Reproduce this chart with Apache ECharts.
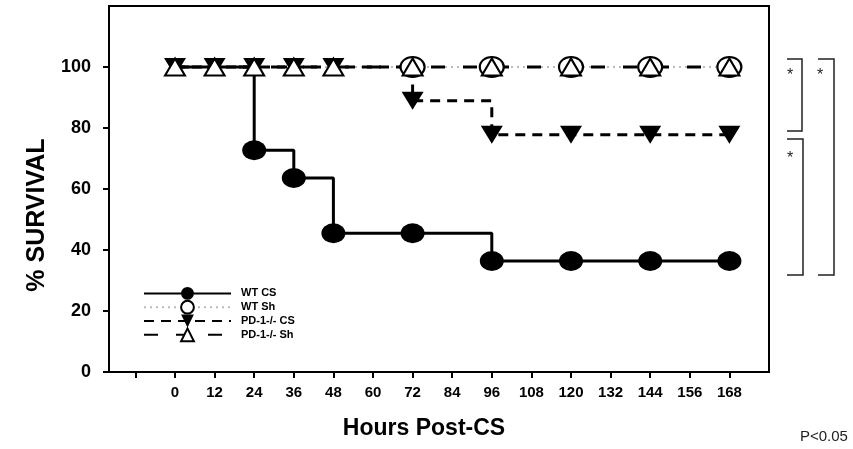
<!DOCTYPE html>
<html>
<head>
<meta charset="utf-8">
<title>Survival</title>
<script src="https://cdn.jsdelivr.net/npm/echarts@6/dist/echarts.min.js"></script>
<style>
  html, body { margin: 0; padding: 0; background: #fff; }
  #chart { width: 853px; height: 449px; }
</style>
</head>
<body>
<div id="chart"></div>
<script>
  // hours after CS
  const hours = [0, 12, 24, 36, 48, 72, 96, 120, 144, 168];
  // % survival per group
  const wtCS   = [100, 100, 72.7, 63.6, 45.5, 45.5, 36.4, 36.4, 36.4, 36.4];
  const wtSh   = [100, 100, 100, 100, 100, 100, 100, 100, 100, 100];
  const pd1CS  = [100, 100, 100, 100, 100, 88.9, 77.8, 77.8, 77.8, 77.8];
  const pd1Sh  = [100, 100, 100, 100, 100, 100, 100, 100, 100, 100];

  const xTicks  = [-12, 0, 12, 24, 36, 48, 60, 72, 84, 96, 108, 120, 132, 144, 156, 168];
  const xLabels = [0, 12, 24, 36, 48, 60, 72, 84, 96, 108, 120, 132, 144, 156, 168];
  const yTicks  = [0, 20, 40, 60, 80, 100];

  const FONT = 'Liberation Sans, Arial, sans-serif';

  // WT markers are hidden where the PD-1-/- CS triangle sits on top of them
  function points(vals, hideUnderPd1) {
    return hours.map((h, i) => {
      const item = { value: [h, vals[i]] };
      if (hideUnderPd1 && vals[i] === pd1CS[i]) item.symbol = 'none';
      return item;
    });
  }

  const myChart = echarts.init(document.getElementById('chart'));

  const option = {
    animation: false,
    grid: {
      left: 109, right: 84, top: 6, bottom: 77,
      show: true, borderColor: '#000', borderWidth: 2,
      outerBoundsMode: 'none'
    },
    legend: {
      orient: 'vertical',
      left: 143, top: 287,
      itemWidth: 87, itemHeight: 16, itemGap: 0,
      padding: 0,
      data: ['WT CS', 'WT Sh', 'PD-1-/- CS', 'PD-1-/- Sh'],
      textStyle: { fontFamily: FONT, fontWeight: 'bold', fontSize: 11, color: '#000', padding: [0, 0, 0, 5] }
    },
    xAxis: {
      type: 'value', min: -20, max: 180,
      name: 'Hours Post-CS', nameLocation: 'middle', nameGap: 45,
      nameTextStyle: { fontFamily: FONT, fontWeight: 'bold', fontSize: 23, color: '#000', padding: [0, 30, 0, 0] },
      axisLine: { onZero: false, lineStyle: { color: '#000', width: 2 } },
      axisTick: { length: 6, lineStyle: { color: '#000', width: 2 }, customValues: xTicks },
      axisLabel: { customValues: xLabels, margin: 13, fontFamily: FONT, fontWeight: 'bold', fontSize: 15, color: '#000' },
      splitLine: { show: false }
    },
    yAxis: {
      type: 'value', min: 0, max: 120,
      name: '% SURVIVAL', nameLocation: 'middle', nameRotate: 90, nameGap: 48,
      nameTextStyle: { fontFamily: FONT, fontWeight: 'bold', fontSize: 25, color: '#000', padding: [0, 52, 0, 0] },
      axisLine: { show: true, onZero: false, lineStyle: { color: '#000', width: 2 } },
      axisTick: { show: true, length: 6, lineStyle: { color: '#000', width: 2 }, customValues: yTicks },
      axisLabel: { customValues: yTicks, margin: 18, fontFamily: FONT, fontWeight: 'bold', fontSize: 18, color: '#000' },
      splitLine: { show: false }
    },
    series: [
      {
        name: 'WT Sh', type: 'line', step: 'end',
        data: points(wtSh, true),
        symbol: 'circle', symbolSize: [24, 20],
        itemStyle: { color: '#fff', borderColor: '#000', borderWidth: 2 },
        lineStyle: { color: '#bbb', width: 2, type: [2, 4] }
      },
      {
        name: 'WT CS', type: 'line', step: 'end',
        data: points(wtCS, true),
        symbol: 'circle', symbolSize: [24, 20],
        itemStyle: { color: '#000' },
        lineStyle: { color: '#000', width: 3 }
      },
      {
        name: 'PD-1-/- CS', type: 'line', step: 'end',
        data: points(pd1CS, false),
        symbol: 'triangle', symbolRotate: 180, symbolSize: [22, 18],
        itemStyle: { color: '#000' },
        lineStyle: { color: '#000', width: 3, type: [10, 7] }
      },
      {
        name: 'PD-1-/- Sh', type: 'line', step: 'end',
        data: points(pd1Sh, false),
        symbol: 'triangle', symbolSize: [20, 17],
        itemStyle: { color: '#fff', borderColor: '#000', borderWidth: 2 },
        lineStyle: { color: '#000', width: 3, type: [14, 18] }
      }
    ],
    graphic: [
      { type: 'polyline', shape: { points: [[787, 59], [802, 59], [802, 131], [787, 131]] }, style: { stroke: '#222', lineWidth: 1.5, fill: null } },
      { type: 'polyline', shape: { points: [[787, 139], [803, 139], [803, 275], [787, 275]] }, style: { stroke: '#222', lineWidth: 1.5, fill: null } },
      { type: 'polyline', shape: { points: [[818, 59], [834, 59], [834, 275], [818, 275]] }, style: { stroke: '#222', lineWidth: 1.5, fill: null } },
      { type: 'text', x: 790, y: 76, style: { text: '*', font: '16px Liberation Sans', fill: '#222', align: 'center', verticalAlign: 'middle' } },
      { type: 'text', x: 820, y: 76, style: { text: '*', font: '16px Liberation Sans', fill: '#222', align: 'center', verticalAlign: 'middle' } },
      { type: 'text', x: 790, y: 159, style: { text: '*', font: '16px Liberation Sans', fill: '#222', align: 'center', verticalAlign: 'middle' } },
      { type: 'text', x: 800, y: 429, style: { text: 'P<0.05', font: '15px Liberation Sans', fill: '#222' } }
    ]
  };

  myChart.setOption(option);
</script>
</body>
</html>
